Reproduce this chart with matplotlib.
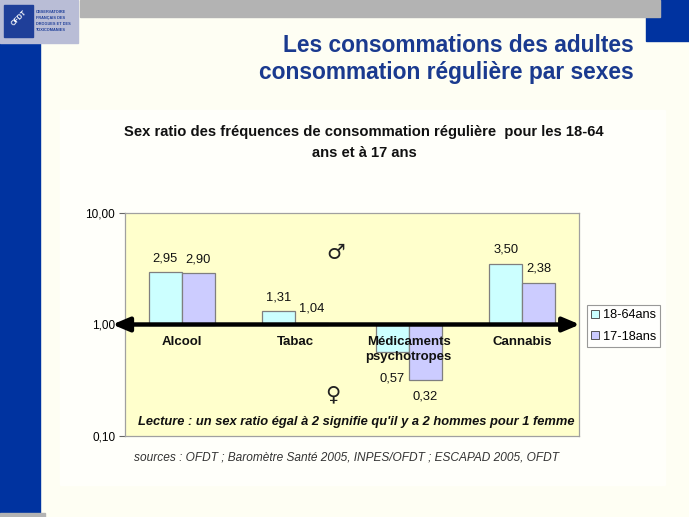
import matplotlib
matplotlib.use("Agg")
import matplotlib.pyplot as plt
from matplotlib.patches import Rectangle, Patch
import numpy as np

# ---- data ----
categories = ["Alcool", "Tabac", "Médicaments\npsychotropes", "Cannabis"]
series_names = ["18-64ans", "17-18ans"]
adults = [2.95, 1.31, 0.57, 3.50]
youth = [2.90, 1.04, 0.32, 2.38]
adult_labels = ["2,95", "1,31", "0,57", "3,50"]
youth_labels = ["2,90", "1,04", "0,32", "2,38"]
ytick_values = [0.1, 1, 10]
ytick_labels = ["0,10", "1,00", "10,00"]

W, H = 689, 517
fig = plt.figure(figsize=(W / 100, H / 100), dpi=100)
fig.patch.set_facecolor("#fefef3")
plt.rcParams["font.family"] = ["Liberation Sans", "DejaVu Sans"]

def px(x, y, w, h):
    """Rectangle in pixel coordinates (top-left origin) -> figure fraction."""
    return (x / W, 1 - (y + h) / H, w / W, h / H)

# slide decorations
for (x, y, w, h, c) in [
    (60, 110, 605, 375, "#fffffa"),
    (646, 0, 43, 41, "#0033a0"),
    (80, 0, 580, 17, "#b3b3b3"),
    (0, 43, 40, 470, "#0033a0"),
    (0, 513, 45, 4, "#b3b3b3"),
    (0, 0, 78, 43, "#b9bdd6"),
    (4, 5, 29, 32, "#1f3f99"),
]:
    fig.patches.append(Rectangle(px(x, y, w, h)[:2], w / W, h / H,
                                 transform=fig.transFigure, color=c, zorder=-10))
fig.text(19 / W, 1 - 18 / H, "OFDT", color="white", fontsize=5, fontweight="bold",
         rotation=45, ha="center", va="center")
fig.text(36 / W, 1 - 21 / H, "OBSERVATOIRE\nFRANÇAIS DES\nDROGUES ET DES\nTOXICOMANIES",
         fontsize=2.8, fontweight="bold", color="#1f3f99", ha="left", va="center",
         linespacing=1.6)

# slide title
title_color = "#1a3a8f"
fig.text(634 / W, 1 - 45 / H, "Les consommations des adultes", color=title_color,
         fontsize=16.4, fontweight="bold", ha="right", va="center")
fig.text(634 / W, 1 - 73 / H, "consommation régulière par sexes", color=title_color,
         fontsize=16.4, fontweight="bold", ha="right", va="center")

# chart title
fig.text(364 / W, 1 - 142.5 / H,
         "Sex ratio des fréquences de consommation régulière  pour les 18-64\nans et à 17 ans",
         fontsize=10.6, fontweight="bold", ha="center", va="center", linespacing=1.55,
         color="#111111")

# axes
ax = fig.add_axes([125 / W, 1 - 436 / H, 454 / W, 223 / H])
ax.set_facecolor("#ffffcc")
ax.set_yscale("log")
ax.set_ylim(0.1, 10)
ax.set_xlim(-0.5, len(categories) - 0.5)
ax.set_yticks(ytick_values)
ax.set_yticklabels(ytick_labels, fontsize=8.5)
ax.yaxis.set_minor_locator(matplotlib.ticker.NullLocator())
ax.set_xticks([])
ax.tick_params(axis="y", length=4, color="#666666", pad=3)
for s in ax.spines.values():
    s.set_color("#a0a0a0")
    s.set_linewidth(0.9)

x = np.arange(len(categories))
bw = 0.29
colors = ["#ccffff", "#ccccff"]
for k, (vals, labs) in enumerate([(adults, adult_labels), (youth, youth_labels)]):
    pos = x + (k - 0.5) * bw
    ax.bar(pos, np.array(vals) - 1, bottom=1, width=bw, color=colors[k],
           edgecolor="#7f7f7f", linewidth=0.9, zorder=2, label=series_names[k])
    for i, (p, v, lab) in enumerate(zip(pos, vals, labs)):
        if v >= 1:
            off = 10
        else:
            off = -19.5 if k == 0 else -12
        ax.annotate(lab, (p, v), xytext=(0, off), textcoords="offset points",
                    ha="center", va="center", fontsize=9.3, zorder=4,
                    color="#111111")

# double arrow at y = 1
ax.annotate("", xy=(1.002, 1), xytext=(-0.028, 1),
            xycoords=ax.get_yaxis_transform(), textcoords=ax.get_yaxis_transform(),
            arrowprops=dict(arrowstyle="<|-|>,head_length=1.0,head_width=0.42",
                            color="black", lw=3.2, shrinkA=0, shrinkB=0),
            annotation_clip=False, zorder=5)

# category labels
for i, c in enumerate(categories):
    ax.annotate(c, (x[i], 1), xytext=(0, -8.5), textcoords="offset points",
                ha="center", va="top", fontsize=9.5, fontweight="bold",
                linespacing=1.35, zorder=6, color="#111111")

# gender symbols
ax.text(0.465, 0.821, "♂", transform=ax.transAxes, fontsize=15,
        ha="center", va="center", family="DejaVu Sans", color="#222222")
ax.text(0.458, 0.188, "♀", transform=ax.transAxes, fontsize=15,
        ha="center", va="center", family="DejaVu Sans", color="#222222")

# reading note
ax.text(0.029, 0.063, "Lecture : un sex ratio égal à 2 signifie qu'il y a 2 hommes pour 1 femme",
        transform=ax.transAxes, fontsize=9.3, fontweight="bold", style="italic",
        ha="left", va="center", color="#111111")

# sources
fig.text(134 / W, 1 - 458 / H,
         "sources : OFDT ; Baromètre Santé 2005, INPES/OFDT ; ESCAPAD 2005, OFDT",
         fontsize=8.6, style="italic", ha="left", va="center", color="#333333")

# legend
handles = [Patch(facecolor=colors[k], edgecolor="#555555", linewidth=0.7,
                 label=series_names[k]) for k in range(2)]
leg = fig.legend(handles=handles, loc="center", bbox_to_anchor=(623.5 / W, 1 - 326 / H),
                 fontsize=9.2, frameon=True, fancybox=False, handlelength=0.6,
                 handleheight=0.6, handletextpad=0.3, borderpad=0.35,
                 labelspacing=0.75, borderaxespad=0)
leg.get_frame().set_edgecolor("#808080")
leg.get_frame().set_linewidth(0.8)
leg.get_frame().set_facecolor("white")

fig.savefig("out.png", dpi=100, facecolor=fig.get_facecolor())
